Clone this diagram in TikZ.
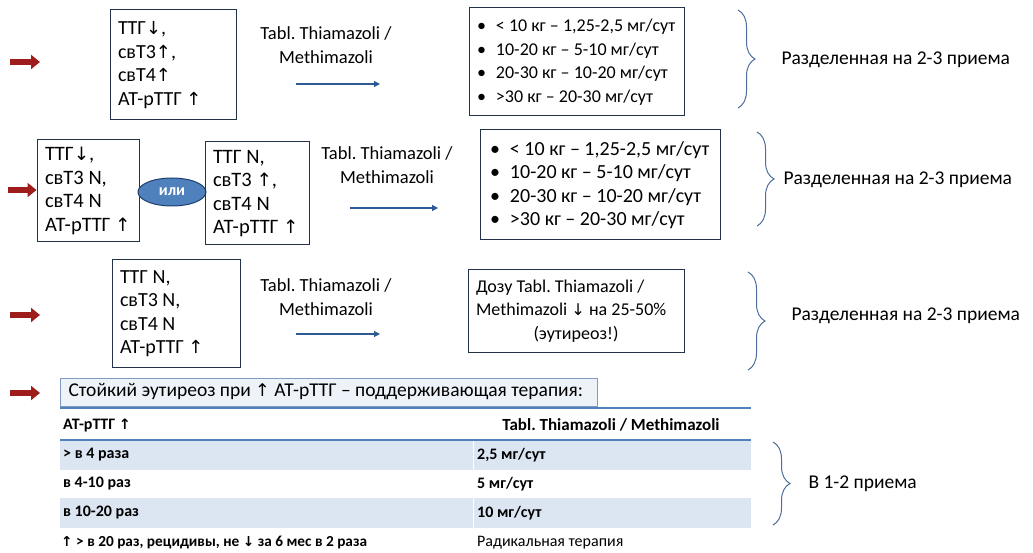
\documentclass[tikz,border=0pt]{standalone}
\usepackage{fontspec}
\setmainfont{Carlito}
\newfontfamily\arrfont{DejaVu Sans}[Scale=0.9]
\usetikzlibrary{arrows.meta,decorations.pathreplacing,shapes.geometric}
\newcommand\UA{{\arrfont\char"2191}}
\newcommand\DA{{\arrfont\char"2193}}
\newcommand\bul{\makebox[19pt][l]{•}}
\newcommand\bulw{\makebox[20pt][l]{•}}
\definecolor{boxc}{HTML}{223349}
\definecolor{bluearr}{HTML}{2E5A93}
\definecolor{bracec}{HTML}{4D6E9E}
\definecolor{redarr}{HTML}{9E1C1C}
\definecolor{ellfill}{HTML}{4F81BD}
\definecolor{elldraw}{HTML}{1F3F6F}
\definecolor{hdrfill}{HTML}{EEF3FA}
\definecolor{hdrdraw}{HTML}{7F9CC0}
\definecolor{rowc}{HTML}{DCE6F2}
\definecolor{tline}{HTML}{4F81BD}
\begin{document}
\frenchspacing
\begin{tikzpicture}[x=1pt,y=-1pt,
  natsp/.style={execute at begin node={\spaceskip=0pt\xspaceskip=0pt\relax}},
  txtbox/.style={draw=boxc, line width=1pt, align=left, natsp, inner xsep=8pt, inner ysep=0pt,
    font=\fontsize{20}{23.5}\selectfont},
  bigbox/.style={txtbox, font=\fontsize{20.5}{23.5}\selectfont},
  bulbox/.style={txtbox, font=\fontsize{18}{23.5}\selectfont},
  lbl/.style={align=center, font=\fontsize{18.5}{24}\selectfont},
  side/.style={anchor=west, font=\fontsize{19.5}{22}\selectfont},
  bluearrow/.style={draw=bluearr, line width=1.1pt, -{Triangle[length=6pt,width=6pt]}},
  redarrow/.style={draw=redarr, line width=6pt, -{Triangle[length=9pt,width=14pt]}},
  brc/.style={draw=bracec, line width=1pt, decorate, decoration={brace, amplitude=17pt}},
  ell/.style={ellipse, draw=elldraw, line width=1pt, fill=ellfill, text=white,
    minimum width=68pt, minimum height=28pt, inner sep=0pt, font=\fontsize{16}{17}\selectfont\bfseries},
  cell/.style={anchor=west, font=\fontsize{16}{18}\selectfont\bfseries, inner sep=0pt},
  cellb/.style={anchor=west, font=\fontsize{16}{18}\selectfont, inner sep=0pt}
]
\useasboundingbox (0,0) rectangle (1033,553);

% ---------- Row 1 ----------
\coordinate (ra1s) at (10,62); \coordinate (ra1e) at (40,62);
\draw[redarrow] (ra1s) -- (ra1e);
\node[txtbox, minimum width=126pt, minimum height=110pt, text width=110pt] (b1) at (173,65)
  {ТТГ\DA,\\свТ3\UA,\\свТ4\UA\\АТ-рТТГ \UA};
\node[lbl] (l1) at (326,45) {Tabl. Thiamazoli /\\Methimazoli};
\coordinate (a1s) at (296,84); \coordinate (a1e) at (380,84);
\draw[bluearrow] (a1s) -- (a1e);
\node[bulbox, minimum width=215pt, minimum height=108pt, text width=199pt] (r1) at (576.5,62)
  {\bul< 10 кг – 1,25-2,5 мг/сут\\\bul10-20 кг – 5-10 мг/сут\\\bul20-30 кг – 10-20 мг/сут\\\bul>30 кг – 20-30 мг/сут};
\coordinate (br1a) at (738,10); \coordinate (br1b) at (738,108);
\draw[brc] (br1a) -- (br1b);
\node[side] (s1) at (778,60) {Разделенная на 2-3 приема};

% ---------- Row 2 ----------
\coordinate (ra2s) at (8,190);
\node[bigbox, minimum width=102pt, minimum height=102pt, text width=86pt] (b2a) at (88,191)
  {ТТГ\DA,\\свТ3 N,\\свТ4 N\\АТ-рТТГ \UA};
\draw[redarrow] (ra2s) -- (b2a.west |- ra2s);
\node[ell] (or) at (172,192) {или};
\node[bigbox, minimum width=104pt, minimum height=103pt, text width=88pt] (b2b) at (257,193.5)
  {ТТГ N,\\свТ3 \UA,\\свТ4 N\\АТ-рТТГ \UA};
\node[lbl] (l2) at (387,165) {Tabl. Thiamazoli /\\Methimazoli};
\coordinate (a2s) at (350,208); \coordinate (a2e) at (438,208);
\draw[bluearrow] (a2s) -- (a2e);
\node[bulbox, font=\fontsize{20}{23.5}\selectfont, inner xsep=10pt, minimum width=240pt, minimum height=110pt, text width=220pt] (r2) at (600,185)
  {\bulw< 10 кг – 1,25-2,5 мг/сут\\\bulw10-20 кг – 5-10 мг/сут\\\bulw20-30 кг – 10-20 мг/сут\\\bulw>30 кг – 20-30 мг/сут};
\coordinate (br2a) at (757,132); \coordinate (br2b) at (757,226);
\draw[brc] (br2a) -- (br2b);
\node[side] (s2) at (780,180) {Разделенная на 2-3 приема};

% ---------- Row 3 ----------
\coordinate (ra3s) at (10,315); \coordinate (ra3e) at (40,315);
\draw[redarrow] (ra3s) -- (ra3e);
\node[txtbox, minimum width=128pt, minimum height=107pt, text width=112pt] (b3) at (176,313.5)
  {ТТГ N,\\свТ3 N,\\свТ4 N\\АТ-рТТГ \UA};
\node[lbl] (l3) at (326,297) {Tabl. Thiamazoli /\\Methimazoli};
\coordinate (a3s) at (296,334); \coordinate (a3e) at (380,334);
\draw[bluearrow] (a3s) -- (a3e);
\node[bulbox, minimum width=216pt, minimum height=82pt, text width=200pt] (r3) at (576,311)
  {Дозу Tabl. Thiamazoli /\\Methimazoli \DA{} на 25-50\%\par{\centering (эутиреоз!)\par}};
\coordinate (br3a) at (748,272); \coordinate (br3b) at (748,370);
\draw[brc] (br3a) -- (br3b);
\node[side] (s3) at (788,316) {Разделенная на 2-3 приема};

% ---------- Row 4 ----------
\coordinate (ra4s) at (10,393); \coordinate (ra4e) at (40,393);
\draw[redarrow] (ra4s) -- (ra4e);
\node[draw=hdrdraw, fill=hdrfill, line width=1pt, anchor=west, minimum width=537pt, minimum height=28pt,
  inner xsep=8pt, text width=521pt, align=left, natsp, font=\fontsize{19.5}{21}\selectfont] (hdr) at (60,392)
  {Стойкий эутиреоз при \UA{} АТ-рТТГ – поддерживающая терапия:};

\fill[rowc] (60,441) rectangle (751,470);
\fill[rowc] (60,498) rectangle (751,528);
\draw[white, line width=1pt] (473,441) -- (473,470);
\draw[white, line width=1pt] (473,498) -- (473,528);
\draw[tline, line width=1.5pt] (60,408) -- (751,408);
\draw[tline, line width=1.5pt] (60,440) -- (751,440);

\node[cell] (h1) at (63,425) {АТ-рТТГ \UA};
\node[cell, anchor=center, font=\fontsize{17}{18}\selectfont\bfseries] (h2) at (611,425) {Tabl. Thiamazoli / Methimazoli};
\node[cell] (c11) at (63,455) {> в 4 раза};
\node[cell] (c12) at (477,455) {2,5 мг/сут};
\node[cell] (c21) at (63,484) {в 4-10 раз};
\node[cell] (c22) at (477,484) {5 мг/сут};
\node[cell] (c31) at (63,513) {в 10-20 раз};
\node[cell] (c32) at (477,513) {10 мг/сут};
\node[cell, font=\fontsize{15.3}{17}\selectfont\bfseries] (c41) at (61,543) {\UA{} > в 20 раз, рецидивы, не \DA{} за 6 мес в 2 раза};
\node[cellb] (c42) at (477,543) {Радикальная терапия};

\coordinate (br4a) at (773,442); \coordinate (br4b) at (773,525);
\draw[brc] (br4a) -- (br4b);
\node[side] (s4) at (805,484) {В 1-2 приема};
\end{tikzpicture}
\end{document}
